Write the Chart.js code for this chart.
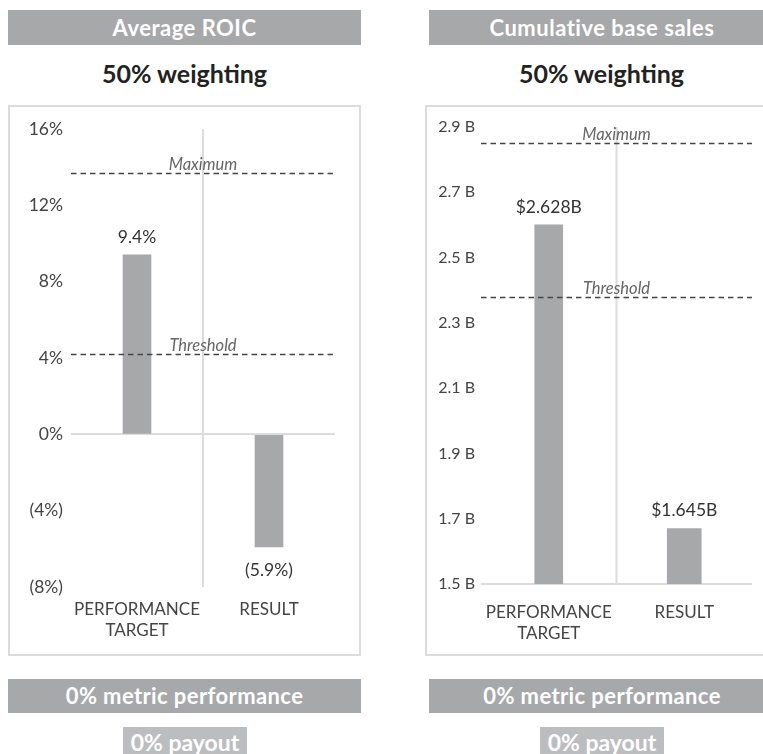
<!DOCTYPE html>
<html>
<head>
<meta charset="utf-8">
<script src="https://cdn.jsdelivr.net/npm/chart.js@4"></script>
<style>
  html, body { margin: 0; padding: 0; background: #fff; }
  body { width: 763px; height: 754px; position: relative; overflow: hidden; font-family: 'Lato', sans-serif; }
  .bar { position: absolute; background: #a7a8aa; color: #fff; text-align: center; font-weight: 700; }
  .hdr { top: 10px; height: 35px; line-height: 35px; font-size: 22px; letter-spacing: 0.5px; }
  .wt { position: absolute; top: 58px; height: 30px; line-height: 30px; text-align: center; font-size: 25px; font-weight: 700; color: #222; }
  .box { position: absolute; top: 105px; height: 547px; width: 349px; border: 2px solid #dcdcdc; }
  .perf { top: 679px; height: 34px; line-height: 34px; font-size: 22px; letter-spacing: 0.4px; }
  .pay { position: absolute; top: 727px; height: 30px; line-height: 30px; background: #bcbdbf; color: #fff; text-align: center; font-size: 23px; font-weight: 700; }
  canvas { position: absolute; }
</style>
</head>
<body>
<div class="bar hdr" style="left:8px;width:353px;">Average ROIC</div>
<div class="bar hdr" style="left:429px;width:346px;">Cumulative base sales</div>
<div class="wt" style="left:8px;width:353px;">50% weighting</div>
<div class="wt" style="left:425px;width:353px;">50% weighting</div>
<div class="box" style="left:8px;"></div>
<div class="box" style="left:425px;"></div>
<canvas id="c1" width="349" height="547" style="left:10px;top:107px;width:349px;height:547px;"></canvas>
<canvas id="c2" width="336" height="547" style="left:427px;top:107px;width:336px;height:547px;"></canvas>
<div class="bar perf" style="left:8px;width:353px;">0% metric performance</div>
<div class="bar perf" style="left:429px;width:346px;">0% metric performance</div>
<div class="pay" style="left:123px;width:124px;">0% payout</div>
<div class="pay" style="left:540px;width:124px;">0% payout</div>
<script>
// ---- data ----
const categories = [['PERFORMANCE', 'TARGET'], 'RESULT'];

const roicValues = [9.4, -5.9];
const roicValueLabels = ['9.4%', '(5.9%)'];
const roicTickLabels = ['(8%)', '(4%)', '0%', '4%', '8%', '12%', '16%'];
const roicThreshold = 4.2;
const roicMaximum = 13.7;

const salesTargetValue = [2.60, null];
const salesResultValue = [null, 1.67];
const salesValueLabels = ['$2.628B', '$1.645B'];
const salesTickLabels = ['1.5 B', '1.7 B', '1.9 B', '2.1 B', '2.3 B', '2.5 B', '2.7 B', '2.9 B'];
const salesThreshold = 2.38;
const salesMaximum = 2.85;

const refNames = ['Threshold', 'Maximum'];

// ---- styling ----
const BAR = '#a7a8aa';
const LINE = '#dcdcdc';
const FONT = 'Lato';

const decorPlugin = {
  id: 'decor',
  beforeDatasetsDraw(chart) {
    const { ctx, chartArea: a } = chart;
    const x = (a.left + a.right) / 2;
    ctx.save();
    ctx.strokeStyle = LINE;
    ctx.lineWidth = 2;
    ctx.beginPath();
    ctx.moveTo(x, a.top);
    ctx.lineTo(x, a.bottom);
    ctx.stroke();
    ctx.restore();
  },
  afterDatasetsDraw(chart) {
    const { ctx, chartArea: a } = chart;
    const o = chart.options.plugins.decor;
    const y = chart.scales.y;
    const cx = (a.left + a.right) / 2;
    ctx.save();
    o.refs.forEach((v, i) => {
      const py = Math.round(y.getPixelForValue(v)) + 0.5;
      ctx.strokeStyle = '#444';
      ctx.lineWidth = 1.3;
      ctx.setLineDash([5.5, 4]);
      ctx.beginPath();
      ctx.moveTo(a.left, py);
      ctx.lineTo(a.right, py);
      ctx.stroke();
      ctx.setLineDash([]);
      ctx.fillStyle = '#666';
      ctx.font = 'italic 16.5px ' + FONT;
      ctx.textAlign = 'center';
      ctx.textBaseline = 'alphabetic';
      ctx.fillText(refNames[i], cx, py - 4);
    });
    ctx.fillStyle = '#333';
    ctx.font = '17.5px ' + FONT;
    ctx.textAlign = 'center';
    ctx.textBaseline = 'middle';
    chart.data.datasets.forEach((ds, di) => {
      const meta = chart.getDatasetMeta(di);
      meta.data.forEach((bar, i) => {
        const v = ds.data[i];
        if (v === null || v === undefined) return;
        const neg = v < o.base;
        const ly = neg ? bar.y + 23 : bar.y - 18;
        ctx.fillText(o.labels[i], bar.x, ly);
      });
    });
    ctx.restore();
  }
};

function makeChart(id, datasets, yOpts, base, refs, labels, pad, yWidth, xHeight, xPad) {
  return new Chart(document.getElementById(id), {
    type: 'bar',
    data: { labels: categories, datasets: datasets },
    options: {
      responsive: false,
      animation: false,
      layout: { padding: pad },
      plugins: {
        legend: { display: false },
        tooltip: { enabled: false },
        decor: { refs: refs, labels: labels, base: base }
      },
      scales: {
        x: {
          grid: { display: false },
          border: { display: false },
          ticks: { color: '#444', font: { family: FONT, size: 17, lineHeight: 1.25 }, padding: xPad, maxRotation: 0 },
          afterFit(s) { s.height = xHeight; }
        },
        y: Object.assign({
          grid: {
            drawTicks: false,
            lineWidth: 2,
            color: (c) => (c.tick && Math.abs(c.tick.value - base) < 1e-9) ? LINE : 'rgba(0,0,0,0)'
          },
          border: { display: false },
          afterFit(s) { s.width = yWidth; }
        }, yOpts)
      }
    },
    plugins: [decorPlugin]
  });
}

makeChart('c1',
  [{ data: roicValues, backgroundColor: BAR, barThickness: 28 }],
  { min: -8, max: 16, ticks: { color: '#444', font: { family: FONT, size: 17.5 }, padding: 8, stepSize: 4, callback: (v, i) => roicTickLabels[i] } },
  0, [roicThreshold, roicMaximum], roicValueLabels,
  { top: 22, right: 24, left: 0, bottom: 0 }, 61, 67, 4);

makeChart('c2',
  [
    { data: salesTargetValue, backgroundColor: BAR, barThickness: 28, grouped: false },
    { data: salesResultValue, backgroundColor: BAR, barThickness: 34, grouped: false }
  ],
  { min: 1.5, max: 2.9, ticks: { color: '#444', font: { family: FONT, size: 16 }, padding: 6, stepSize: 0.2, callback: (v, i) => salesTickLabels[i] } },
  1.5, [salesThreshold, salesMaximum], salesValueLabels,
  { top: 20, right: 11, left: 0, bottom: 0 }, 54, 70, 10);
</script>
</body>
</html>
